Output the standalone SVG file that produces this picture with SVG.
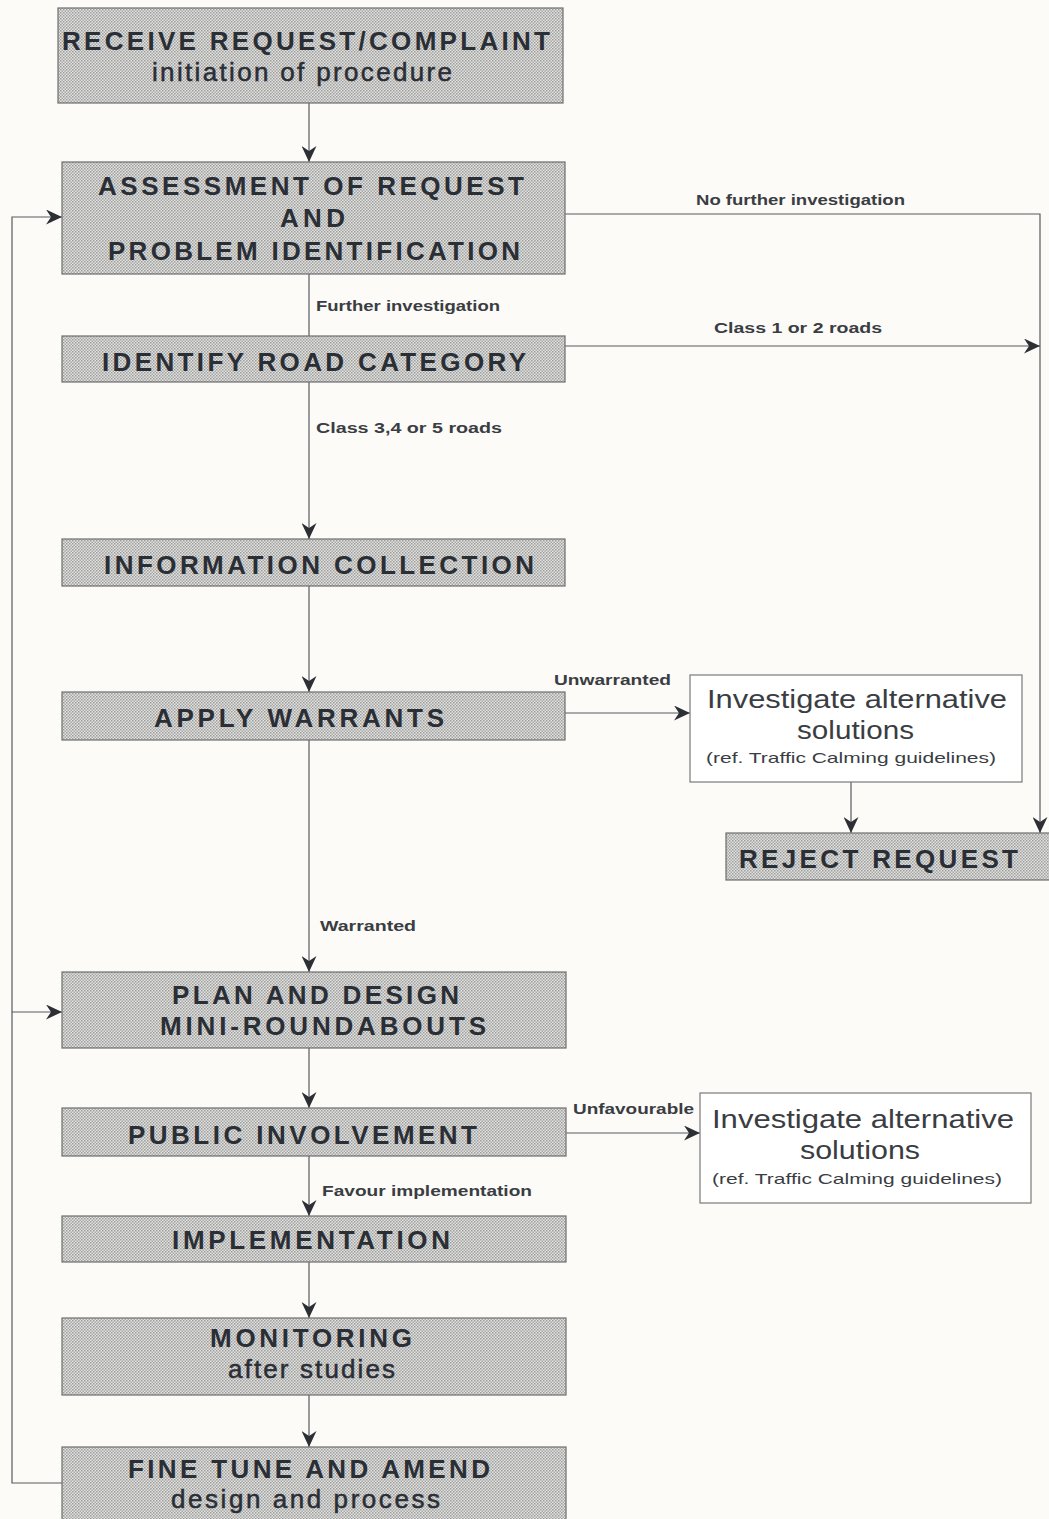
<svg xmlns="http://www.w3.org/2000/svg" width="1049" height="1519" viewBox="0 0 1049 1519">
<defs>
<pattern id="dots" width="3" height="3" patternUnits="userSpaceOnUse">
<rect width="3" height="3" fill="#e2e2e0"/>
<rect x="0" y="0" width="1.5" height="1.5" fill="#9c9c9c"/>
<rect x="1.5" y="1.5" width="1.5" height="1.5" fill="#a8a8a8"/>
</pattern>
<marker id="arr" viewBox="0 0 16 15" markerWidth="16" markerHeight="15" refX="16" refY="7.5" orient="auto" markerUnits="userSpaceOnUse">
<path d="M0,0 L16,7.5 L0,15 L5,7.5 Z" fill="#2c3035"/>
</marker>
</defs>
<style>
.box{fill:url(#dots);stroke:#6e6e6e;stroke-width:1.2}
.wbox{fill:#ffffff;stroke:#7a7a7a;stroke-width:1.2}
.t{font-family:"Liberation Sans",Arial,sans-serif;font-weight:bold;font-size:26px;fill:#2a2e35}
.s{font-family:"Liberation Sans",Arial,sans-serif;font-size:26px;fill:#2a2e35;stroke:#2a2e35;stroke-width:0.5}
.a{font-family:"Liberation Sans",Arial,sans-serif;font-size:26px;fill:#3a3d42}
.r{font-family:"Liberation Sans",Arial,sans-serif;font-size:15px;fill:#3a3d42}
.l{font-family:"Liberation Sans",Arial,sans-serif;font-weight:bold;font-size:14px;fill:#3a3d42}
.c{fill:none;stroke:#555a5e;stroke-width:1.2}
</style>
<rect width="1049" height="1519" fill="#fcfbf8"/>

<g id="connectors">
<line class="c" x1="309" y1="103" x2="309" y2="162" marker-end="url(#arr)"/>
<line class="c" x1="309" y1="274" x2="309" y2="336"/>
<line class="c" x1="309" y1="382" x2="309" y2="539" marker-end="url(#arr)"/>
<line class="c" x1="309" y1="586" x2="309" y2="692" marker-end="url(#arr)"/>
<line class="c" x1="309" y1="740" x2="309" y2="972" marker-end="url(#arr)"/>
<line class="c" x1="309" y1="1048" x2="309" y2="1108" marker-end="url(#arr)"/>
<line class="c" x1="309" y1="1156" x2="309" y2="1216" marker-end="url(#arr)"/>
<line class="c" x1="309" y1="1262" x2="309" y2="1318" marker-end="url(#arr)"/>
<line class="c" x1="309" y1="1395" x2="309" y2="1447" marker-end="url(#arr)"/>
<polyline class="c" points="565,214 1040,214 1040,833" marker-end="url(#arr)"/>
<line class="c" x1="565" y1="346" x2="1040" y2="346" marker-end="url(#arr)"/>
<line class="c" x1="565" y1="713" x2="690" y2="713" marker-end="url(#arr)"/>
<line class="c" x1="851" y1="782" x2="851" y2="833" marker-end="url(#arr)"/>
<line class="c" x1="566" y1="1133" x2="700" y2="1133" marker-end="url(#arr)"/>
<polyline class="c" points="62,1483 12,1483 12,217 62,217" marker-end="url(#arr)"/>
<line class="c" x1="12" y1="1012" x2="62" y2="1012" marker-end="url(#arr)"/>
<text class="l" x="696" y="205" textLength="209" lengthAdjust="spacingAndGlyphs">No further investigation</text>
<text class="l" x="316" y="311" textLength="184" lengthAdjust="spacingAndGlyphs">Further investigation</text>
<text class="l" x="714" y="333" textLength="168" lengthAdjust="spacingAndGlyphs">Class 1 or 2 roads</text>
<text class="l" x="316" y="433" textLength="186" lengthAdjust="spacingAndGlyphs">Class 3,4 or 5 roads</text>
<text class="l" x="554" y="685" textLength="117" lengthAdjust="spacingAndGlyphs">Unwarranted</text>
<text class="l" x="320" y="931" textLength="96" lengthAdjust="spacingAndGlyphs">Warranted</text>
<text class="l" x="573" y="1114" textLength="121" lengthAdjust="spacingAndGlyphs">Unfavourable</text>
<text class="l" x="322" y="1196" textLength="210" lengthAdjust="spacingAndGlyphs">Favour implementation</text>
</g>

<g id="receive">
<rect class="box" x="58" y="8" width="505" height="95"/>
<text class="t" x="62" y="50" textLength="488" lengthAdjust="spacing">RECEIVE REQUEST/COMPLAINT</text>
<text class="s" x="152" y="81" textLength="300" lengthAdjust="spacing">initiation of procedure</text>
</g>

<g id="assessment">
<rect class="box" x="62" y="162" width="503" height="112"/>
<text class="t" x="98" y="195" textLength="426" lengthAdjust="spacing">ASSESSMENT OF REQUEST</text>
<text class="t" x="280" y="227" textLength="65" lengthAdjust="spacing">AND</text>
<text class="t" x="108" y="260" textLength="412" lengthAdjust="spacing">PROBLEM IDENTIFICATION</text>
</g>

<g id="road-category">
<rect class="box" x="62" y="336" width="503" height="46"/>
<text class="t" x="102" y="371" textLength="424" lengthAdjust="spacing">IDENTIFY ROAD CATEGORY</text>
</g>

<g id="information">
<rect class="box" x="62" y="539" width="503" height="47"/>
<text class="t" x="104" y="574" textLength="430" lengthAdjust="spacing">INFORMATION COLLECTION</text>
</g>

<g id="warrants">
<rect class="box" x="62" y="692" width="503" height="48"/>
<text class="t" x="154" y="727" textLength="290" lengthAdjust="spacing">APPLY WARRANTS</text>
</g>

<g id="alt1">
<rect class="wbox" x="690" y="675" width="332" height="107"/>
<text class="a" x="707" y="708" textLength="300" lengthAdjust="spacingAndGlyphs">Investigate alternative</text>
<text class="a" x="797" y="739" textLength="117" lengthAdjust="spacingAndGlyphs">solutions</text>
<text class="r" x="706" y="763" textLength="290" lengthAdjust="spacingAndGlyphs">(ref. Traffic Calming guidelines)</text>
</g>

<g id="reject">
<rect class="box" x="726" y="833" width="330" height="47"/>
<text class="t" x="739" y="868" textLength="279" lengthAdjust="spacing">REJECT REQUEST</text>
</g>

<g id="plan">
<rect class="box" x="62" y="972" width="504" height="76"/>
<text class="t" x="172" y="1004" textLength="287" lengthAdjust="spacing">PLAN AND DESIGN</text>
<text class="t" x="160" y="1035" textLength="326" lengthAdjust="spacing">MINI-ROUNDABOUTS</text>
</g>

<g id="public">
<rect class="box" x="62" y="1108" width="504" height="48"/>
<text class="t" x="128" y="1144" textLength="349" lengthAdjust="spacing">PUBLIC INVOLVEMENT</text>
</g>

<g id="alt2">
<rect class="wbox" x="700" y="1093" width="331" height="110"/>
<text class="a" x="712" y="1128" textLength="302" lengthAdjust="spacingAndGlyphs">Investigate alternative</text>
<text class="a" x="800" y="1159" textLength="120" lengthAdjust="spacingAndGlyphs">solutions</text>
<text class="r" x="712" y="1184" textLength="290" lengthAdjust="spacingAndGlyphs">(ref. Traffic Calming guidelines)</text>
</g>

<g id="implementation">
<rect class="box" x="62" y="1216" width="504" height="46"/>
<text class="t" x="172" y="1249" textLength="278" lengthAdjust="spacing">IMPLEMENTATION</text>
</g>

<g id="monitoring">
<rect class="box" x="62" y="1318" width="504" height="77"/>
<text class="t" x="210" y="1347" textLength="202" lengthAdjust="spacing">MONITORING</text>
<text class="s" x="228" y="1378" textLength="167" lengthAdjust="spacing">after studies</text>
</g>

<g id="finetune">
<rect class="box" x="62" y="1447" width="504" height="80"/>
<text class="t" x="128" y="1478" textLength="362" lengthAdjust="spacing">FINE TUNE AND AMEND</text>
<text class="s" x="171" y="1508" textLength="269" lengthAdjust="spacing">design and process</text>
</g>
</svg>
